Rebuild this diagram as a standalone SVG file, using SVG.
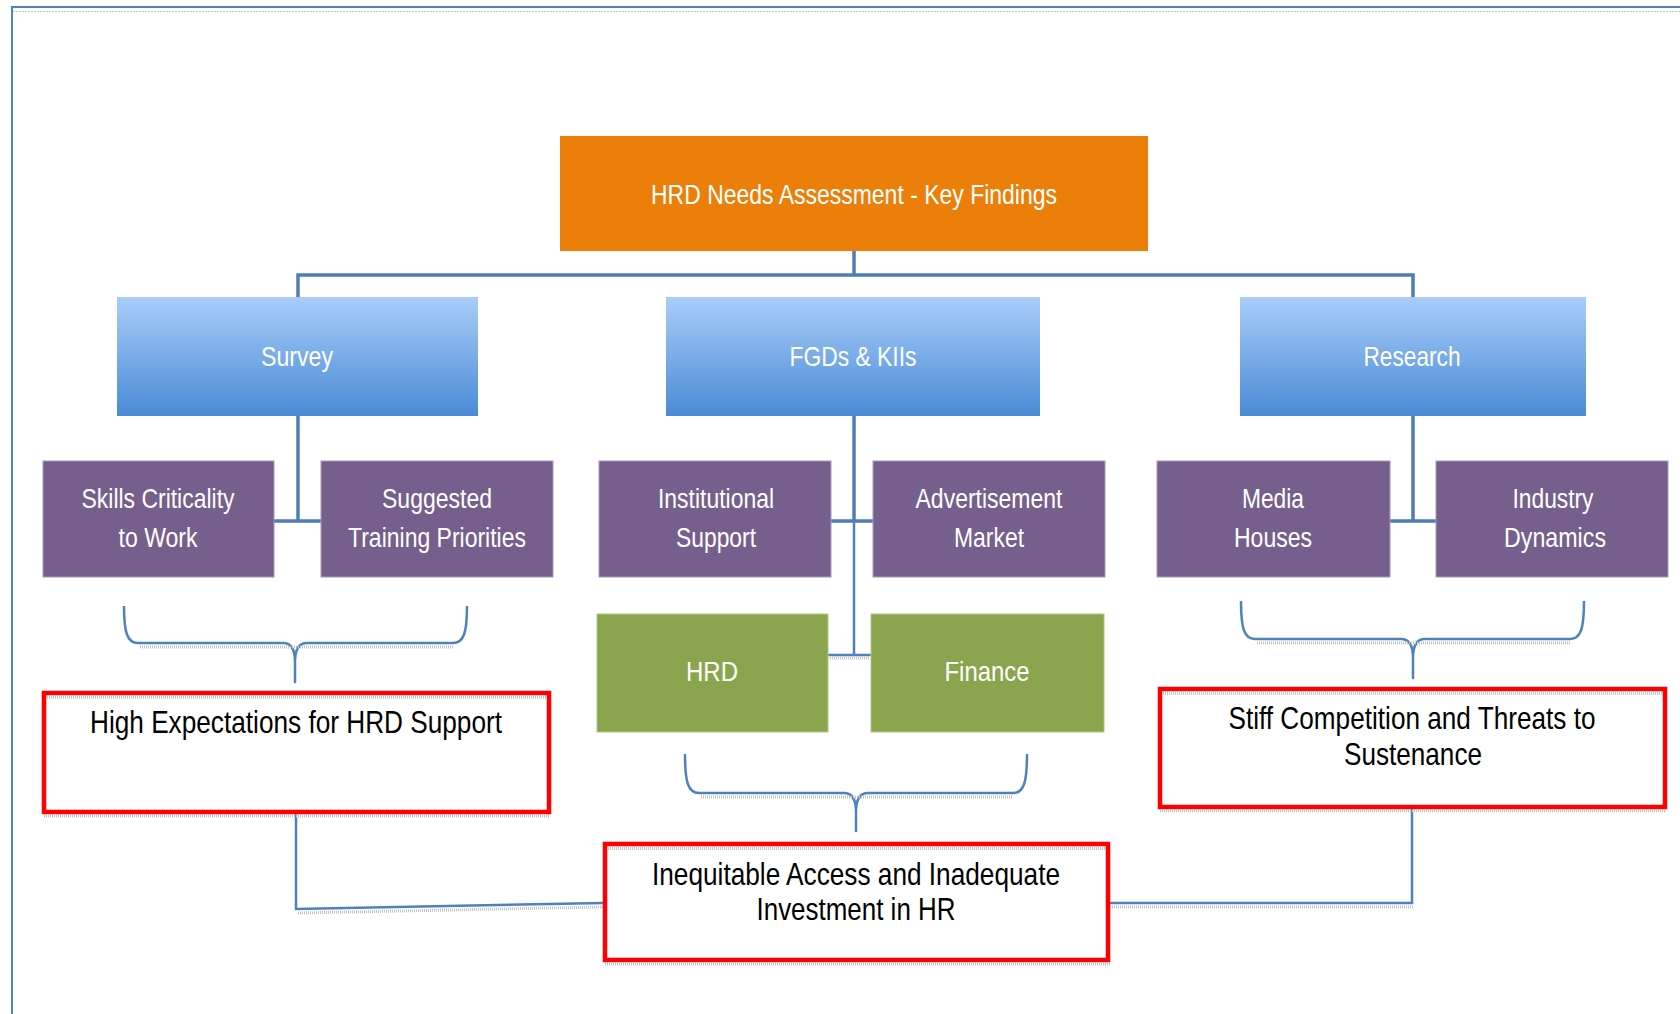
<svg xmlns="http://www.w3.org/2000/svg" width="1680" height="1014" viewBox="0 0 1680 1014">
<defs>
<linearGradient id="blueGrad" x1="0" y1="0" x2="0" y2="1">
<stop offset="0" stop-color="#a9cdf9"/>
<stop offset="1" stop-color="#4a8bd6"/>
</linearGradient>
</defs>
<style>
text{font-family:"Liberation Sans",Arial,sans-serif;text-anchor:middle}
.w{fill:#ffffff;font-size:27.5px}
.k{fill:#000000;font-size:30.5px}
.orange{fill:#eb7f09}
.blue{fill:url(#blueGrad)}
.purple{fill:#765f8c;stroke:#a898bb;stroke-width:1}
.green{fill:#8aa54d;stroke:#b2c68c;stroke-width:1}
.red{fill:#ffffff;stroke:#ff0000;stroke-width:4.5}
.shadow{stroke:#c4c4c4;stroke-width:3;stroke-dasharray:1 1;fill:none}
.tree{stroke:#4d7db7;stroke-width:3.5;fill:none}
.thin{stroke:#4f81bd;stroke-width:2.5;fill:none}
.brace{stroke:#4f81bd;stroke-width:2.5;fill:none;stroke-linejoin:round}
</style>
<rect width="1680" height="1014" fill="#ffffff"/>
<g id="frame">
<line x1="12" y1="6" x2="12" y2="1014" stroke="#4f81bd" stroke-width="2"/>
<line x1="11" y1="7" x2="1680" y2="7" stroke="#4f81bd" stroke-width="2"/>
<line x1="13" y1="11.5" x2="1680" y2="11.5" stroke="#c8c8c8" stroke-width="1" stroke-dasharray="2 1"/>
</g>
<g id="connectors">
<path class="tree" d="M854,251 V275 M298,297 V275 H1413 V297"/>
<path class="tree" d="M298,416 V521 M274,521 H321"/>
<path class="tree" d="M854,416 V521 M831,521 H873"/>
<path class="thin" d="M854,521 V655 M828,655 H871"/>
<path class="shadow" d="M830,658 H869"/>
<path class="tree" d="M1413,416 V521 M1390,521 H1436"/>
<path class="brace" d="M124,606 C124,632 127,643 138,643 H283 C291,643 295,650 295,662 V682 V662 C295,650 299,643 307,643 H453 C464,643 467,632 467,606"/>
<path class="shadow" d="M140,647 H453"/>
<path class="brace" d="M685,754 C685,782 688,793 699,793 H844 C852,793 856,800 856,812 V831 V812 C856,800 860,793 868,793 H1013 C1024,793 1027,782 1027,754"/>
<path class="shadow" d="M701,797 H1013"/>
<path class="brace" d="M1241,601 C1241,628 1244,639 1255,639 H1401 C1409,639 1413,646 1413,658 V678 V658 C1413,646 1417,639 1425,639 H1570 C1581,639 1584,628 1584,601"/>
<path class="shadow" d="M1257,643 H1570"/>
<path class="thin" d="M296,812 V909 L603,903"/>
<path class="shadow" d="M298,913 L603,907"/>
<path class="thin" d="M1412,808 V903 H1110"/>
<path class="shadow" d="M1110,907 H1414"/>
</g>
<g id="root">
<rect class="orange" x="560" y="136" width="588" height="115"/>
<text class="w" x="854" y="204" textLength="406" lengthAdjust="spacingAndGlyphs">HRD Needs Assessment - Key Findings</text>
</g>
<g id="survey">
<rect class="blue" x="117" y="297" width="361" height="119"/>
<text class="w" x="297" y="366" textLength="72" lengthAdjust="spacingAndGlyphs">Survey</text>
</g>
<g id="fgds">
<rect class="blue" x="666" y="297" width="374" height="119"/>
<text class="w" x="853" y="366" textLength="127" lengthAdjust="spacingAndGlyphs">FGDs &amp; KIIs</text>
</g>
<g id="research">
<rect class="blue" x="1240" y="297" width="346" height="119"/>
<text class="w" x="1412" y="366" textLength="97" lengthAdjust="spacingAndGlyphs">Research</text>
</g>
<g id="skills">
<rect class="purple" x="43" y="461" width="231" height="116"/>
<text class="w" x="158" y="508" textLength="153" lengthAdjust="spacingAndGlyphs">Skills Criticality</text>
<text class="w" x="158" y="547" textLength="79" lengthAdjust="spacingAndGlyphs">to Work</text>
</g>
<g id="suggested">
<rect class="purple" x="321" y="461" width="232" height="116"/>
<text class="w" x="437" y="508" textLength="110" lengthAdjust="spacingAndGlyphs">Suggested</text>
<text class="w" x="437" y="547" textLength="178" lengthAdjust="spacingAndGlyphs">Training Priorities</text>
</g>
<g id="institutional">
<rect class="purple" x="599" y="461" width="232" height="116"/>
<text class="w" x="716" y="508" textLength="116" lengthAdjust="spacingAndGlyphs">Institutional</text>
<text class="w" x="716" y="547" textLength="80" lengthAdjust="spacingAndGlyphs">Support</text>
</g>
<g id="advertisement">
<rect class="purple" x="873" y="461" width="232" height="116"/>
<text class="w" x="989" y="508" textLength="147" lengthAdjust="spacingAndGlyphs">Advertisement</text>
<text class="w" x="989" y="547" textLength="70" lengthAdjust="spacingAndGlyphs">Market</text>
</g>
<g id="media">
<rect class="purple" x="1157" y="461" width="233" height="116"/>
<text class="w" x="1273" y="508" textLength="62" lengthAdjust="spacingAndGlyphs">Media</text>
<text class="w" x="1273" y="547" textLength="78" lengthAdjust="spacingAndGlyphs">Houses</text>
</g>
<g id="industry">
<rect class="purple" x="1436" y="461" width="232" height="116"/>
<text class="w" x="1553" y="508" textLength="81" lengthAdjust="spacingAndGlyphs">Industry</text>
<text class="w" x="1555" y="547" textLength="102" lengthAdjust="spacingAndGlyphs">Dynamics</text>
</g>
<g id="hrd">
<rect class="green" x="597" y="614" width="231" height="118"/>
<text class="w" x="712" y="681" textLength="52" lengthAdjust="spacingAndGlyphs">HRD</text>
</g>
<g id="finance">
<rect class="green" x="871" y="614" width="233" height="118"/>
<text class="w" x="987" y="681" textLength="85" lengthAdjust="spacingAndGlyphs">Finance</text>
</g>
<g id="high-expectations">
<rect class="red" x="44" y="693" width="505" height="119"/>
<path class="shadow" d="M47,697.5 H546 M44,816 H550"/>
<text class="k" x="296" y="733" textLength="412" lengthAdjust="spacingAndGlyphs">High Expectations for HRD Support</text>
</g>
<g id="stiff-competition">
<rect class="red" x="1160" y="689" width="505" height="118"/>
<path class="shadow" d="M1163,693.5 H1662 M1160,811 H1666"/>
<text class="k" x="1412" y="729" textLength="367" lengthAdjust="spacingAndGlyphs">Stiff Competition and Threats to</text>
<text class="k" x="1413" y="765" textLength="138" lengthAdjust="spacingAndGlyphs">Sustenance</text>
</g>
<g id="inequitable">
<rect class="red" x="605" y="844" width="503" height="116"/>
<path class="shadow" d="M608,848.5 H1105 M605,964 H1110"/>
<text class="k" x="856" y="885" textLength="408" lengthAdjust="spacingAndGlyphs">Inequitable Access and Inadequate</text>
<text class="k" x="856" y="920" textLength="199" lengthAdjust="spacingAndGlyphs">Investment in HR</text>
</g>
</svg>
